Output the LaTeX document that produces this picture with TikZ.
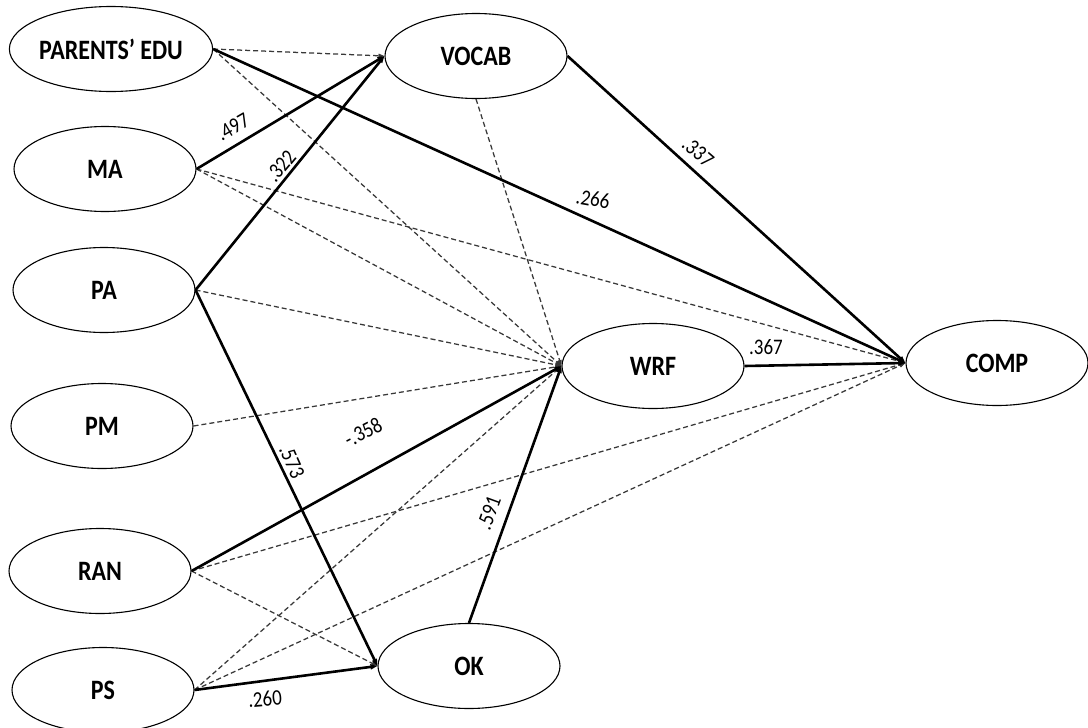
\documentclass[tikz,border=0pt]{standalone}
\usepackage{fontspec}
\usepackage{graphicx}
\setmainfont{Carlito}
\usetikzlibrary{shapes.geometric,arrows.meta}
\newcommand{\vstr}[1]{\scalebox{1}[1.17]{#1}}
\begin{document}
\begin{tikzpicture}[x=1pt,y=-1pt,
  var/.style={ellipse,draw=black,line width=1.1pt,minimum width=182pt,minimum height=85pt,inner sep=0pt,font=\fontsize{24}{28}\selectfont\bfseries},
  sig/.style={line width=2.6pt,draw=black,-{Triangle[length=7pt,width=5pt]}},
  ns/.style={line width=1.25pt,draw=black!78,dash pattern=on 5pt off 3pt,-{Triangle[length=6pt,width=4pt]}},
  lab/.style={font=\fontsize{19}{21}\selectfont,inner sep=1pt}]
\useasboundingbox (0,0) rectangle (1088,728);
\fill[white] (0,0) rectangle (1088,728);
\clip (0,0) rectangle (1088,728);

% variables
\node[var] (pe) at (111,49) {\vstr{PARENTS’ EDU}};
\node[var] (ma) at (105,169) {\vstr{MA}};
\node[var] (pa) at (104,290) {\vstr{PA}};
\node[var] (pm) at (102,426) {\vstr{PM}};
\node[var] (ran) at (100,571) {\vstr{RAN}};
\node[var] (ps) at (103,690) {\vstr{PS}};
\node[var] (vocab) at (476,56) {\vstr{VOCAB}};
\node[var] (wrf) at (653,366) {\vstr{WRF}};
\node[var] (comp) at (997,363) {\vstr{COMP}};
\node[var] (ok) at (469,666) {\vstr{OK}};

% non-significant paths
\draw[ns] (pe.east) -- (vocab.west);
\draw[ns] (pe.east) -- (wrf.west);
\draw[ns] (ma.east) -- (wrf.west);
\draw[ns] (ma.east) -- (comp.west);
\draw[ns] (pa.east) -- (wrf.west);
\draw[ns] (pm.east) -- (wrf.west);
\draw[ns] (vocab.south) -- (wrf.west);
\draw[ns] (ran.east) -- (comp.west);
\draw[ns] (ran.east) -- (ok.west);
\draw[ns] (ps.east) -- (wrf.west);
\draw[ns] (ps.east) -- (comp.west);

% significant paths
\draw[sig] (ma.east) -- (vocab.west);
\draw[sig] (pa.east) -- (vocab.west);
\draw[sig] (pe.east) -- (comp.west);
\draw[sig] (vocab.east) -- (comp.west);
\draw[sig] (wrf.east) -- (comp.west);
\draw[sig] (pa.east) -- (ok.west);
\draw[sig] (ran.east) -- (wrf.west);
\draw[sig] (ok.north) -- (wrf.west);
\draw[sig] (ps.east) -- (ok.west);

% coefficients
\node[lab,rotate=30] (l497) at (233,127) {\vstr{.497}};
\node[lab,rotate=50] (l322) at (281,166) {\vstr{.322}};
\node[lab,rotate=-10] (l266) at (593,199) {\vstr{.266}};
\node[lab,rotate=-41] (l337) at (698,152) {\vstr{.337}};
\node[lab] (l367) at (766,347) {\vstr{.367}};
\node[lab,rotate=-66] (l573) at (292,462) {\vstr{.573}};
\node[lab,rotate=27] (l358) at (363,432) {\vstr{-.358}};
\node[lab,rotate=70] (l591) at (489,513) {\vstr{.591}};
\node[lab,rotate=5] (l260) at (265,699) {\vstr{.260}};
\end{tikzpicture}
\end{document}
